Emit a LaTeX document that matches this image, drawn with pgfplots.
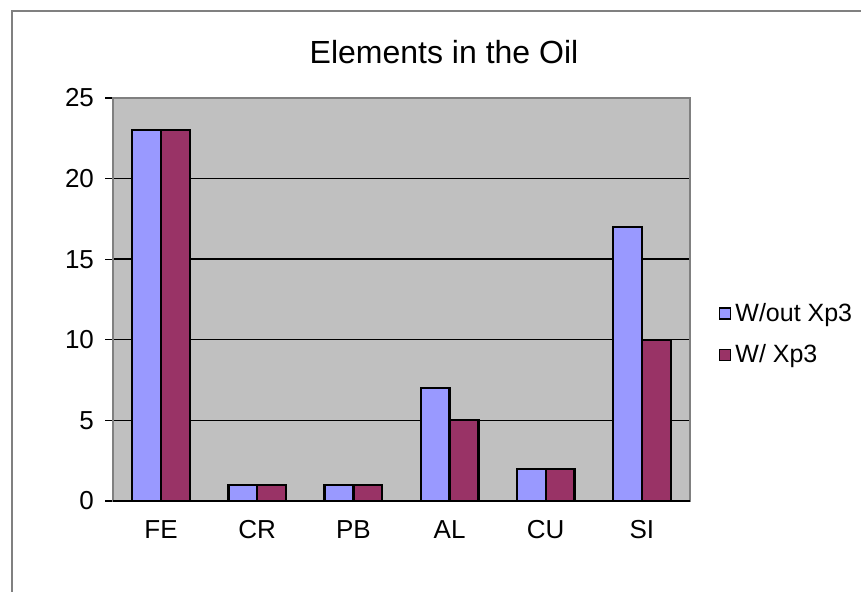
\documentclass[border=0pt]{standalone}
\usepackage{fontspec}
\setmainfont{Liberation Sans}
\usepackage{pgfplots}
\pgfplotsset{compat=1.18}
\definecolor{serA}{HTML}{9999FF}
\definecolor{serB}{HTML}{993366}
\definecolor{plotbg}{HTML}{C0C0C0}
\definecolor{frame}{HTML}{808080}
\begin{document}
\begin{tikzpicture}[x=1pt,y=1pt]
\useasboundingbox (0,0) rectangle (430.5,296);
\draw[frame, line width=1.2pt] (6,-2) -- (6,290.5) -- (433,290.5);
\node[font=\fontsize{16}{19}\selectfont] at (222,270) {Elements in the Oil};
\begin{axis}[
  at={(56.5pt,45.5pt)}, anchor=south west,
  scale only axis, width=288.5pt, height=201.5pt,
  /pgf/number format/assume math mode=true,
  axis background/.style={fill=plotbg},
  axis line style={frame, line width=0.9pt},
  xmin=-0.5, xmax=5.5, ymin=0, ymax=25,
  xtick={0,1,2,3,4,5},
  xticklabels={FE,CR,PB,AL,CU,SI},
  minor xtick={-0.5,0.5,1.5,2.5,3.5,4.5,5.5},
  xtick pos=bottom, ytick pos=left,
  xtick style={draw=none},
  minor x tick style={black, line width=0.6pt},
  ytick={0,5,10,15,20,25},
  y tick style={black, line width=0.6pt},
  tick align=outside,
  major tick length=4pt, minor tick length=4pt,
  ymajorgrids,
  grid style={black, line width=0.7pt},
  tick label style={font=\fontsize{13}{15}\selectfont},
  xticklabel style={anchor=base, yshift=-15pt},
  yticklabel style={xshift=-2pt},
  ybar, bar width=0.3,
  legend style={at={(1.05,0.414)}, anchor=west, draw=none, fill=none,
    font=\fontsize{12.5}{14}\selectfont, row sep=6pt, inner xsep=0pt},
  legend cell align=left,
  legend image code/.code={\draw[#1,draw=black,line width=0.6pt] (0pt,-2.75pt) rectangle (5.5pt,2.75pt);},
  clip=false,
]
\addplot[fill=serA, draw=black, line width=1.1pt, bar shift=-0.15] coordinates {(0,23) (1,1) (2,1) (3,7) (4,2) (5,17)};
\addplot[fill=serB, draw=black, line width=1.1pt, bar shift=0.15] coordinates {(0,23) (1,1) (2,1) (3,5) (4,2) (5,10)};
\legend{W/out Xp3, W/ Xp3}
\draw[black, line width=0.9pt] (rel axis cs:0,0) -- (rel axis cs:1,0);
\end{axis}
\end{tikzpicture}
\end{document}
